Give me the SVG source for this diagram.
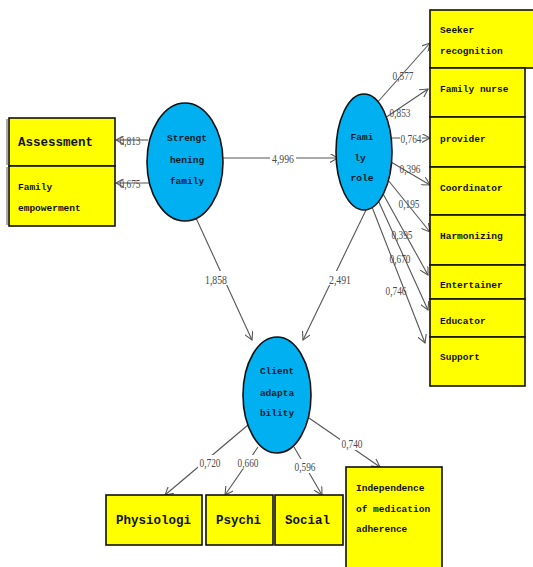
<svg xmlns="http://www.w3.org/2000/svg" width="533" height="567" viewBox="0 0 533 567">
  <style>
    .box { fill: #ffff00; stroke: #111; stroke-width: 1.6; }
    .lat { fill: #00b0f0; stroke: #111; stroke-width: 1.6; }
    .conn { stroke: #555; stroke-width: 1.1; fill: none; marker-end: url(#arr); }
    .bt { font-family: "Liberation Mono", "DejaVu Sans Mono", monospace; font-weight: bold; fill: #111; font-size: 9.5px; }
    .big { font-size: 12.5px; }
    .ct { font-family: "Liberation Mono", "DejaVu Sans Mono", monospace; font-weight: bold; fill: #0a1a2a; font-size: 9.5px; text-anchor: middle; }
    .lb { font-family: "Liberation Serif", "Times New Roman", serif; fill: #4a4a4a; font-size: 13px; text-anchor: middle; }
  </style>
  <defs>
    <marker id="arr" viewBox="0 0 10 10" refX="9" refY="5" markerWidth="9" markerHeight="9" orient="auto" markerUnits="userSpaceOnUse">
      <path d="M0,0 L9,5 L0,10" fill="none" stroke="#555" stroke-width="1.2"/>
    </marker>
  </defs>
  <rect width="533" height="567" fill="#fff"/>

  <!-- connectors -->
  <g id="connectors">
    <path class="conn" d="M223,158 L338,158"/>
    <path class="conn" d="M148,140 L116,140"/>
    <path class="conn" d="M150,183 L116,183"/>
    <path class="conn" d="M196,218 L252,340"/>
    <path class="conn" d="M366,210 L303,340"/>
    <path class="conn" d="M376,104 L430,43"/>
    <path class="conn" d="M385,118 L428,89"/>
    <path class="conn" d="M392,138 L430,138"/>
    <path class="conn" d="M391,162 L430,185"/>
    <path class="conn" d="M388,180 L430,232"/>
    <path class="conn" d="M382,192 L428,275"/>
    <path class="conn" d="M378,200 L428,310"/>
    <path class="conn" d="M372,207 L425,343"/>
    <path class="conn" d="M248,425 L165,495"/>
    <path class="conn" d="M258,447 L225,495"/>
    <path class="conn" d="M294,447 L322,495"/>
    <path class="conn" d="M309,418 L380,467"/>
  </g>

  <!-- path coefficients -->
  <g id="labels">
    <rect x="270" y="150" width="26" height="14" fill="#fff"/>
    <text class="lb" x="283" y="163" textLength="22" lengthAdjust="spacingAndGlyphs">4,996</text>
    <text class="lb" x="130" y="145" textLength="21" lengthAdjust="spacingAndGlyphs">0,813</text>
    <text class="lb" x="130" y="188" textLength="21" lengthAdjust="spacingAndGlyphs">0,675</text>
    <rect x="203" y="271" width="26" height="14" fill="#fff"/>
    <text class="lb" x="216" y="284" textLength="22" lengthAdjust="spacingAndGlyphs">1,858</text>
    <rect x="327" y="271" width="26" height="14" fill="#fff"/>
    <text class="lb" x="340" y="284" textLength="22" lengthAdjust="spacingAndGlyphs">2,491</text>
    <text class="lb" x="403" y="80" textLength="21" lengthAdjust="spacingAndGlyphs">0,577</text>
    <text class="lb" x="400" y="117" textLength="21" lengthAdjust="spacingAndGlyphs">0,853</text>
    <rect x="400" y="132" width="22" height="13" fill="#fff"/>
    <text class="lb" x="411" y="143" textLength="21" lengthAdjust="spacingAndGlyphs">0,764</text>
    <text class="lb" x="410" y="173" textLength="21" lengthAdjust="spacingAndGlyphs">0,396</text>
    <text class="lb" x="409" y="208" textLength="21" lengthAdjust="spacingAndGlyphs">0,195</text>
    <text class="lb" x="402" y="239" textLength="21" lengthAdjust="spacingAndGlyphs">0,395</text>
    <text class="lb" x="400" y="263" textLength="21" lengthAdjust="spacingAndGlyphs">0,670</text>
    <text class="lb" x="396" y="295" textLength="21" lengthAdjust="spacingAndGlyphs">0,746</text>
    <rect x="198" y="455" width="24" height="14" fill="#fff"/>
    <text class="lb" x="210" y="467" textLength="21" lengthAdjust="spacingAndGlyphs">0,720</text>
    <rect x="236" y="455" width="24" height="14" fill="#fff"/>
    <text class="lb" x="248" y="467" textLength="21" lengthAdjust="spacingAndGlyphs">0,660</text>
    <rect x="293" y="459" width="24" height="14" fill="#fff"/>
    <text class="lb" x="305" y="471" textLength="21" lengthAdjust="spacingAndGlyphs">0,596</text>
    <rect x="340" y="436" width="24" height="14" fill="#fff"/>
    <text class="lb" x="352" y="448" textLength="21" lengthAdjust="spacingAndGlyphs">0,740</text>
  </g>

  <!-- latent variables -->
  <g id="strengthening-family">
    <ellipse class="lat" cx="185" cy="162" rx="38" ry="59"/>
    <text class="ct" x="187" y="141">Strengt</text>
    <text class="ct" x="187" y="163">hening</text>
    <text class="ct" x="187" y="184">family</text>
  </g>
  <g id="family-role">
    <ellipse class="lat" cx="364" cy="152" rx="28" ry="58"/>
    <text class="ct" x="362" y="140">Fami</text>
    <text class="ct" x="360" y="161">ly</text>
    <text class="ct" x="362" y="181">role</text>
  </g>
  <g id="client-adaptability">
    <ellipse class="lat" cx="277" cy="395" rx="34" ry="58"/>
    <text class="ct" x="277" y="374">Client</text>
    <text class="ct" x="277" y="396">adapta</text>
    <text class="ct" x="277" y="416">bility</text>
  </g>

  <!-- indicators of Strengthening family -->
  <g id="assessment">
    <line x1="7" y1="119" x2="7" y2="165" stroke="#555" stroke-width="1"/>
    <rect class="box" x="9" y="118" width="106" height="48"/>
    <text class="bt big" x="18" y="146">Assessment</text>
  </g>
  <g id="family-empowerment">
    <line x1="7" y1="167" x2="7" y2="225" stroke="#555" stroke-width="1"/>
    <rect class="box" x="9" y="166" width="106" height="60"/>
    <text class="bt" x="18" y="190">Family</text>
    <text class="bt" x="18" y="211">empowerment</text>
  </g>

  <!-- indicators of Family role -->
  <g id="seeker-recognition">
    <rect class="box" x="430" y="10" width="106" height="58"/>
    <text class="bt" x="440" y="33">Seeker</text>
    <text class="bt" x="440" y="54">recognition</text>
  </g>
  <g id="family-nurse">
    <rect class="box" x="430" y="68" width="95" height="49"/>
    <text class="bt" x="440" y="92">Family nurse</text>
  </g>
  <g id="provider">
    <rect class="box" x="430" y="117" width="95" height="50"/>
    <text class="bt" x="440" y="142">provider</text>
  </g>
  <g id="coordinator">
    <rect class="box" x="430" y="167" width="95" height="48"/>
    <text class="bt" x="440" y="191">Coordinator</text>
  </g>
  <g id="harmonizing">
    <rect class="box" x="430" y="215" width="95" height="50"/>
    <text class="bt" x="440" y="239">Harmonizing</text>
  </g>
  <g id="entertainer">
    <rect class="box" x="430" y="265" width="95" height="34"/>
    <text class="bt" x="440" y="288">Entertainer</text>
  </g>
  <g id="educator">
    <rect class="box" x="430" y="299" width="95" height="38"/>
    <text class="bt" x="440" y="324">Educator</text>
  </g>
  <g id="support">
    <rect class="box" x="430" y="337" width="95" height="49"/>
    <text class="bt" x="440" y="360">Support</text>
  </g>

  <!-- indicators of Client adaptability -->
  <g id="physiologi">
    <rect class="box" x="106" y="495" width="96" height="50"/>
    <text class="bt big" x="116" y="524">Physiologi</text>
  </g>
  <g id="psychi">
    <rect class="box" x="206" y="495" width="67" height="50"/>
    <text class="bt big" x="216" y="524">Psychi</text>
  </g>
  <g id="social">
    <rect class="box" x="275" y="495" width="68" height="50"/>
    <text class="bt big" x="285" y="524">Social</text>
  </g>
  <g id="medication-adherence">
    <rect class="box" x="346" y="467" width="96" height="106"/>
    <text class="bt" x="356" y="491">Independence</text>
    <text class="bt" x="356" y="512">of medication</text>
    <text class="bt" x="356" y="532">adherence</text>
  </g>
</svg>
